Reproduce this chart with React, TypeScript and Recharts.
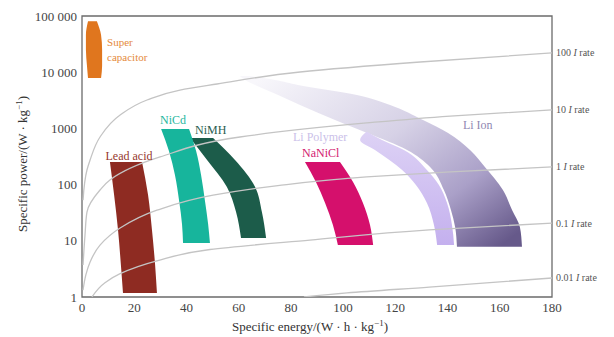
import {
  Area,
  ComposedChart,
  LabelList,
  Line,
  ReferenceArea,
  ReferenceDot,
  XAxis,
  YAxis,
} from 'recharts'

if (typeof document !== 'undefined') document.body.style.margin = '0'

const energyTicks = [0, 20, 40, 60, 80, 100, 120, 140, 160, 180]
const powerTicks = [1, 10, 100, 1000, 10000, 100000]

// constant-rate guide curves, [specific energy, specific power]
const rate100 = [[0.4, 53], [1.9, 182], [3.1, 274], [6.9, 703], [14.6, 1730], [24.9, 3200], [37.5, 4820], [51.7, 6170], [83.5, 10090], [129.5, 15200], [180, 22000]]
const rate10 = [[0.4, 3.7], [1.15, 12.7], [1.9, 32.5], [6.9, 80], [10.7, 121], [29.9, 310], [60.5, 703], [109, 1250], [141, 1660], [180, 2130]]
const rate1 = [[0.4, 1.33], [1.5, 2.5], [3.1, 4.2], [6.9, 8.4], [14.6, 16.9], [28.7, 35], [50.2, 65], [75, 96], [109, 137], [141, 168], [180, 206]]
const rate01 = [[3.8, 1], [8.8, 1.8], [14.6, 2.6], [28.7, 4.4], [49, 7.0], [87.3, 10.3], [133, 15.6], [180, 20.7]]
const rate001 = [[85, 1], [101.5, 1.18], [133, 1.5], [180, 2.18]]
const rateNames = ['100', '10', '1', '0.1', '0.01']

// battery regions, [specific power, energy at left edge, energy at right edge]
const superCap = [[81000, 2.3, 5.7], [46000, 1.5, 7.3], [25000, 1.5, 7.7], [13000, 1.9, 7.7], [7900, 2.3, 7.3]]
const leadAcid = [[253, 10.7, 23.0], [65, 12.3, 25.3], [15.6, 13.8, 26.8], [3.7, 14.9, 28.0], [1.18, 15.7, 28.7]]
const niCd = [[975, 30.3, 41.0], [396, 33.3, 43.7], [148, 35.6, 45.6], [51, 37.2, 47.1], [19.9, 38.3, 48.3], [9.1, 38.7, 49.0]]
const niMH = [[675, 41.4, 50.2], [274, 47.9, 58.6], [91, 55.5, 66.3], [32.5, 59.0, 68.9], [11.2, 60.9, 70.5]]
const naNiCl = [[253, 85.4, 98.8], [111, 89.6, 103.8], [47, 93.1, 107.6], [19.1, 96.1, 110.3], [8.4, 98.0, 111.5]]
const liPolymer = [[860, 108.8, 109.2], [622, 106.5, 114.9], [413, 112.2, 123.3], [182, 122.6, 132.1], [98, 127.9, 136.7], [47, 132.1, 139.8], [19.1, 134.8, 141.7], [8.4, 136.0, 142.5]]
const liIon = [[8560, 60.5, 64.3], [7260, 62.4, 73.9], [5920, 66.3, 82.7], [3930, 75.1, 105.3], [2610, 83.5, 118.0], [1410, 96.9, 130.6], [828, 109.2, 140.2], [413, 124.5, 148.6], [206, 133.3, 154.3], [80, 138.6, 161.2], [35.3, 141.3, 164.7], [17.6, 142.9, 167.7], [7.8, 143.6, 168.5]]

const toCurve = (pts: number[][]) => pts.map(([e, p]) => ({ e, p }))
const toBand = (rows: number[][]) => rows.map(([p, l, r]) => ({ p, range: [l, r] }))

const serif = "'Liberation Serif', 'Times New Roman', Times, serif"
const fmtPower = (v: number) => (v >= 10000 ? String(v).replace(/(\d{3})$/, ' $1') : String(v))

type TagProps = { viewBox?: { x: number; y: number }; text: string; color: string; size?: number }
function Tag({ viewBox, text, color, size = 12 }: TagProps) {
  if (!viewBox) return null
  return (
    <text x={viewBox.x} y={viewBox.y} dy="0.35em" fill={color} fontSize={size} style={{ fontFamily: serif }}>
      {text}
    </text>
  )
}

function RateTag(props: any) {
  const { x, y, value, name } = props
  if (value !== 180) return null
  return (
    <text x={x + 4} y={y} dy="0.35em" fill="#555" fontSize={10} style={{ fontFamily: serif }}>
      {name} <tspan fontStyle="italic">I</tspan> rate
    </text>
  )
}

const curves = [rate100, rate10, rate1, rate01, rate001]

export default function App() {
  return (
    <div style={{ fontFamily: serif }}>
      <ComposedChart
        width={614}
        height={337}
        layout="vertical"
        margin={{ top: 16, right: 62, bottom: 0, left: 0 }}
      >
        <defs>
          <linearGradient id="liIonFill" x1="0" y1="0.1" x2="1" y2="0.9">
            <stop offset="0" stopColor="#f8f7fb" />
            <stop offset="0.45" stopColor="#d6d1e6" />
            <stop offset="0.75" stopColor="#aaa0c8" />
            <stop offset="1" stopColor="#66598a" />
          </linearGradient>
          <linearGradient id="liPolyFill" x1="0" y1="0" x2="0" y2="1">
            <stop offset="0" stopColor="#ddd2f5" />
            <stop offset="1" stopColor="#c4b0ee" />
          </linearGradient>
        </defs>
        <XAxis
          type="number"
          dataKey="e"
          domain={[0, 180]}
          ticks={energyTicks}
          allowDataOverflow
          height={40}
          tickLine={false}
          tickSize={4}
          axisLine={false}
          tick={{ fill: '#444', fontSize: 13, style: { fontFamily: serif } }}
        />
        <YAxis
          type="number"
          dataKey="p"
          scale="log"
          domain={[1, 100000]}
          ticks={powerTicks}
          reversed
          allowDataOverflow
          width={82}
          tickLine={false}
          tickSize={3}
          axisLine={false}
          tickFormatter={fmtPower}
          tick={{ fill: '#444', fontSize: 13, style: { fontFamily: serif } }}
        />
        {curves.map((c, i) => (
          <Line
            key={rateNames[i]}
            data={toCurve(c)}
            dataKey="e"
            type="monotone"
            stroke="#c4c4c4"
            strokeWidth={1.3}
            dot={false}
            isAnimationActive={false}
          >
            <LabelList dataKey="e" content={<RateTag name={rateNames[i]} />} />
          </Line>
        ))}
        <Area data={toBand(liIon)} dataKey="range" type="monotone" fill="url(#liIonFill)" fillOpacity={1} stroke="none" isAnimationActive={false} />
        <Area data={toBand(liPolymer)} dataKey="range" type="monotone" fill="url(#liPolyFill)" fillOpacity={1} stroke="none" isAnimationActive={false} />
        <Area data={toBand(naNiCl)} dataKey="range" type="monotone" fill="#d5106c" fillOpacity={1} stroke="none" isAnimationActive={false} />
        <Area data={toBand(niMH)} dataKey="range" type="monotone" fill="#1c5c4a" fillOpacity={1} stroke="none" isAnimationActive={false} />
        <Area data={toBand(niCd)} dataKey="range" type="monotone" fill="#17b59c" fillOpacity={1} stroke="none" isAnimationActive={false} />
        <Area data={toBand(leadAcid)} dataKey="range" type="monotone" fill="#8e2b22" fillOpacity={1} stroke="none" isAnimationActive={false} />
        <Area data={toBand(superCap)} dataKey="range" type="monotone" fill="#e0761e" fillOpacity={1} stroke="none" isAnimationActive={false} />

        <ReferenceDot x={9.6} y={34400} r={0} label={<Tag text="Super" color="#e58a3c" size={11} />} />
        <ReferenceDot x={9.6} y={18700} r={0} label={<Tag text="capacitor" color="#e58a3c" size={11} />} />
        <ReferenceDot x={9.0} y={330} r={0} label={<Tag text="Lead acid" color="#96392e" />} />
        <ReferenceDot x={29.9} y={1410} r={0} label={<Tag text="NiCd" color="#1fb7a0" />} />
        <ReferenceDot x={43.3} y={936} r={0} label={<Tag text="NiMH" color="#2a5e50" />} />
        <ReferenceDot x={80.8} y={703} r={0} label={<Tag text="Li Polymer" color="#cbbfe9" />} />
        <ReferenceDot x={84.3} y={365} r={0} label={<Tag text="NaNiCl" color="#d3206f" />} />
        <ReferenceDot x={145.9} y={1150} r={0} label={<Tag text="Li Ion" color="#8f87b2" />} />

        <ReferenceArea x1={0} x2={180} y1={1} y2={100000} fill="none" stroke="#6b6b6b" strokeWidth={1.3} />

        <text x={310} y={326} dy="0.35em" textAnchor="middle" fill="#333" fontSize={13} style={{ fontFamily: serif }}>
          Specific energy/(W · h · kg<tspan dy="-5" fontSize={9}>−1</tspan><tspan dy="5">)</tspan>
        </text>
        <text
          transform="translate(22 164) rotate(-90)"
          dy="0.35em"
          textAnchor="middle"
          fill="#333"
          fontSize={13}
          style={{ fontFamily: serif }}
        >
          Specific power/(W · kg<tspan dy="-5" fontSize={9}>−1</tspan><tspan dy="5">)</tspan>
        </text>
      </ComposedChart>
    </div>
  )
}
